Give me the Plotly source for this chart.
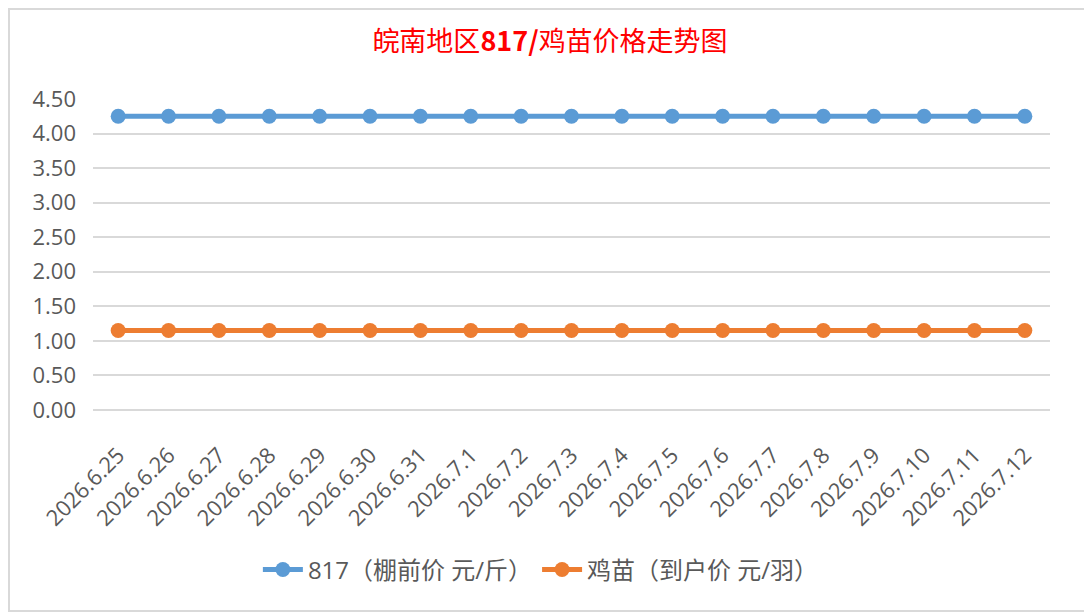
import plotly.graph_objects as go

# data
dates = ["2026.6.25", "2026.6.26", "2026.6.27", "2026.6.28", "2026.6.29", "2026.6.30",
         "2026.6.31", "2026.7.1", "2026.7.2", "2026.7.3", "2026.7.4", "2026.7.5",
         "2026.7.6", "2026.7.7", "2026.7.8", "2026.7.9", "2026.7.10", "2026.7.11",
         "2026.7.12"]
price_817 = [4.25] * 19
price_chick = [1.15] * 19
y_ticks = [0, 0.5, 1.0, 1.5, 2.0, 2.5, 3.0, 3.5, 4.0, 4.5]

FONT = "'Open Sans', 'Noto Sans CJK SC', sans-serif"
GREY = "#595959"

fig = go.Figure()
fig.add_trace(go.Scatter(
    x=dates, y=price_817, mode="lines+markers",
    name="817（棚前价 元/斤）",
    line=dict(color="#5B9BD5", width=5),
    marker=dict(color="#5B9BD5", size=15),
))
fig.add_trace(go.Scatter(
    x=dates, y=price_chick, mode="lines+markers",
    name="鸡苗（到户价 元/羽）",
    line=dict(color="#ED7D31", width=5),
    marker=dict(color="#ED7D31", size=15),
))

# page body has an 8px margin, so the figure is sized a bit smaller
fig.update_layout(
    width=1084, height=607,
    paper_bgcolor="white", plot_bgcolor="white",
    margin=dict(l=85, r=42, t=91, b=205),
    title=dict(
        text="皖南地区<b>817/</b>鸡苗价格走势图",
        x=0.5, xanchor="center", y=0.944, yanchor="middle",
        font=dict(family="'Noto Sans CJK SC', sans-serif", size=27, color="#FF0000"),
    ),
    legend=dict(
        orientation="h", x=0.468, xanchor="center", y=-0.514, yanchor="middle",
        font=dict(family=FONT, size=24, color=GREY),
        itemwidth=40,
    ),
    font=dict(family=FONT, color=GREY),
    shapes=[dict(type="rect", xref="paper", yref="paper",
                 x0=-0.0878, x1=1.0387, y0=-0.646, y1=1.289,
                 line=dict(color="#D9D9D9", width=2))],
)
fig.update_xaxes(
    type="category", range=[-0.5, 18.5], tickangle=-45,
    showline=False, showgrid=False, ticks="", ticklabelstandoff=27,
    tickfont=dict(size=22, color=GREY),
)
fig.update_yaxes(
    range=[0, 4.5], tickvals=y_ticks, tickformat=".2f",
    showgrid=True, gridcolor="#D9D9D9", gridwidth=1.5,
    zeroline=True, zerolinecolor="#D9D9D9", zerolinewidth=1.5,
    showline=False, ticks="", ticklabelstandoff=16,
    tickfont=dict(size=22, color=GREY),
)

fig.write_html("out.html")
